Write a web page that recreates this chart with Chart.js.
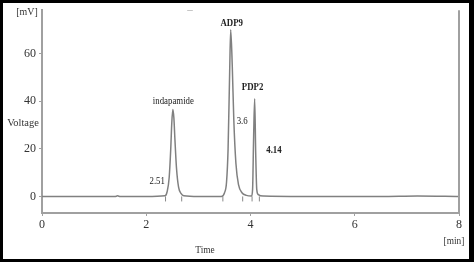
<!DOCTYPE html>
<html>
<head>
<meta charset="utf-8">
<script src="https://cdn.jsdelivr.net/npm/chart.js@4"></script>
<style>
body{margin:0;background:#fff;}
canvas{display:block;}
</style>
</head>
<body>
<canvas id="myChart" width="474" height="262"></canvas>
<script>
// trace (time in min, signal in mV)
var times=[0,1.40,1.45,1.50,2.0,2.36,2.40,2.44,2.47,2.49,2.51,2.53,2.55,2.58,2.62,2.67,2.72,3.0,3.44,3.50,3.54,3.57,3.60,3.62,3.65,3.68,3.72,3.77,3.84,3.92,4.02,4.04,4.06,4.08,4.10,4.12,4.15,4.25,5.0,6.5,7.2,8.0];
var voltage=[0,0,0.3,0,0,0.3,2,8,20,31,36.5,33,24,12,4,1.2,0.3,0,0,1.5,6,20,52,70,55,32,14,5,1.5,0.5,0.2,3,25,41,18,3,0.8,0.2,0,0,0.2,0];
// integration markers at peak starts / ends
var markX=[2.37,2.68,3.47,3.85,4.03,4.17];
var markY=[-1,-1,-1,-1,-1,-1];
var xTicks=[0,2,4,6,8];
var yTicks=[0,20,40,60];
// peak labels
var labelText=['indapamide','ADP9','PDP2','3.6','2.51','4.14'];
var labelX=[2.52,3.64,4.04,3.84,2.21,4.45];
var labelY=[40.1,72.6,45.8,31.6,6.5,19.5];
var labelBold=[false,true,true,false,false,true];

var framePlugin={
    id:'frame',
    afterDraw:function(chart){
        var ctx=chart.ctx;
        var a=chart.chartArea;
        var xs=chart.scales.x, ys=chart.scales.y;
        ctx.save();
        // right axis line
        ctx.strokeStyle='#a0a0a0';
        ctx.lineWidth=2;
        ctx.beginPath();
        ctx.moveTo(a.right,a.top);
        ctx.lineTo(a.right,a.bottom);
        ctx.stroke();
        // peak labels
        ctx.fillStyle='#222';
        ctx.textAlign='center';
        ctx.textBaseline='middle';
        for(var i=0;i<labelText.length;i++){
            var px=xs.getPixelForValue(labelX[i]);
            var py=ys.getPixelForValue(labelY[i]);
            ctx.save();
            ctx.translate(px,py);
            ctx.scale(0.8,1);
            ctx.font=(labelBold[i]?'bold ':'')+'11px "Liberation Serif"';
            ctx.fillText(labelText[i],0,0);
            ctx.restore();
        }
        // axis captions
        ctx.fillStyle='#333';
        ctx.font='11px "Liberation Serif"';
        ctx.save();ctx.translate(27,12);ctx.scale(0.9,1);ctx.fillText('[mV]',0,0);ctx.restore();
        ctx.save();ctx.translate(23,123);ctx.scale(0.95,1);ctx.fillText('Voltage',0,0);ctx.restore();
        ctx.save();ctx.translate(205,250);ctx.scale(0.85,1);ctx.fillText('Time',0,0);ctx.restore();
        ctx.save();ctx.translate(454,241);ctx.scale(0.85,1);ctx.fillText('[min]',0,0);ctx.restore();
        ctx.fillStyle='#999';
        ctx.fillText('\u2013',190,10);
        // outer black frame
        ctx.fillStyle='#000';
        ctx.fillRect(0,0,474,3);
        ctx.fillRect(0,259,474,3);
        ctx.fillRect(0,0,3,262);
        ctx.fillRect(469,0,5,262);
        ctx.restore();
    }
};

var ctxP=document.getElementById('myChart').getContext('2d');
var chart=new Chart(ctxP,{
    type:'line',
    data:{
        datasets:[{
            data:times.map(function(t,i){return {x:t,y:voltage[i]};}),
            borderColor:'#808080',
            borderWidth:1.5,
            pointRadius:0,
            cubicInterpolationMode:'monotone',
            fill:false
        },{
            type:'scatter',
            data:markX.map(function(t,i){return {x:t,y:markY[i]};}),
            pointStyle:'line',
            rotation:90,
            pointRadius:2.5,
            borderColor:'#888',
            borderWidth:1
        }]
    },
    options:{
        responsive:false,
        animation:false,
        layout:{padding:{left:0,right:15,top:3,bottom:0}},
        plugins:{legend:{display:false},tooltip:{enabled:false}},
        scales:{
            x:{
                type:'linear',
                min:0,max:8,
                afterBuildTicks:function(s){s.ticks=xTicks.map(function(v){return {value:v};});},
                afterFit:function(s){s.height=49;},
                grid:{drawOnChartArea:false,tickLength:3,color:'#a0a0a0'},
                border:{color:'#a0a0a0',width:2},
                ticks:{color:'#333',padding:2,maxRotation:0,font:{family:'Liberation Serif',size:12}}
            },
            y:{
                min:-6.9,max:78.2,
                afterBuildTicks:function(s){s.ticks=yTicks.map(function(v){return {value:v};});},
                afterFit:function(s){s.width=42;},
                grid:{drawOnChartArea:false,tickLength:3,color:'#a0a0a0'},
                border:{color:'#a0a0a0',width:2},
                ticks:{color:'#333',padding:3,font:{family:'Liberation Serif',size:12}}
            }
        }
    },
    plugins:[framePlugin]
});
</script>
</body>
</html>
